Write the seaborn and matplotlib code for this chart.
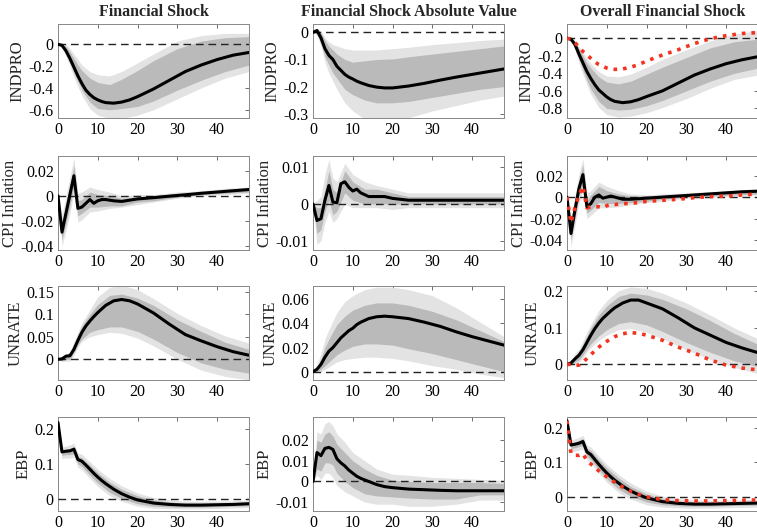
import matplotlib
matplotlib.use("Agg")
import matplotlib.pyplot as plt
import matplotlib.ticker as mticker
import seaborn as sns

# horizons for the median lines and for the error bands
H = [0, 1, 2, 3, 4, 5, 6, 7, 8, 9, 10, 11, 12, 14, 16, 18, 20, 24, 28, 32, 36, 40, 44, 48]
BH = [0, 1, 2, 3, 4, 5, 6, 8, 10, 13, 16, 20, 24, 30, 36, 42, 48]

COL_TITLES = ["Financial Shock", "Financial Shock Absolute Value", "Overall Financial Shock"]
ROW_LABELS = ["INDPRO", "CPI Inflation", "UNRATE", "EBP"]

# ---- INDPRO ----
IND_FS_MED = [0, -0.01, -0.06, -0.13, -0.21, -0.29, -0.36, -0.42, -0.46, -0.49, -0.51, -0.525, -0.535, -0.54, -0.53, -0.51, -0.48, -0.41, -0.33, -0.25, -0.19, -0.14, -0.10, -0.075]
IND_FS_IN_LO = [0, -0.02, -0.09, -0.17, -0.26, -0.34, -0.42, -0.53, -0.59, -0.60, -0.59, -0.57, -0.52, -0.42, -0.33, -0.25, -0.19]
IND_FS_IN_HI = [0, 0.0, -0.02, -0.07, -0.13, -0.19, -0.24, -0.31, -0.35, -0.37, -0.32, -0.24, -0.15, -0.04, 0.03, 0.06, 0.07]
IND_FS_OUT_LO = [0, -0.03, -0.11, -0.20, -0.30, -0.39, -0.47, -0.59, -0.65, -0.68, -0.68, -0.65, -0.60, -0.50, -0.40, -0.31, -0.25]
IND_FS_OUT_HI = [0, 0.01, 0.0, -0.04, -0.09, -0.14, -0.19, -0.25, -0.28, -0.29, -0.25, -0.17, -0.09, 0.03, 0.08, 0.10, 0.10]

IND_AV_MED = [0, 0.007, -0.02, -0.06, -0.085, -0.10, -0.125, -0.14, -0.155, -0.165, -0.172, -0.18, -0.186, -0.196, -0.202, -0.205, -0.205, -0.198, -0.188, -0.176, -0.165, -0.155, -0.145, -0.135]
IND_AV_IN_LO = [0, -0.005, -0.04, -0.09, -0.12, -0.15, -0.17, -0.21, -0.23, -0.25, -0.26, -0.26, -0.255, -0.24, -0.225, -0.21, -0.20]
IND_AV_IN_HI = [0, 0.012, 0.0, -0.03, -0.05, -0.065, -0.08, -0.10, -0.11, -0.105, -0.10, -0.098, -0.09, -0.08, -0.07, -0.06, -0.05]
IND_AV_OUT_LO = [0, -0.01, -0.05, -0.11, -0.15, -0.18, -0.21, -0.26, -0.29, -0.32, -0.33, -0.33, -0.315, -0.29, -0.27, -0.25, -0.235]
IND_AV_OUT_HI = [0, 0.015, 0.005, -0.02, -0.035, -0.045, -0.05, -0.06, -0.065, -0.065, -0.065, -0.06, -0.055, -0.045, -0.038, -0.03, -0.025]

IND_OV_MED = [0, -0.01, -0.07, -0.18, -0.28, -0.38, -0.46, -0.53, -0.59, -0.63, -0.67, -0.70, -0.72, -0.735, -0.725, -0.70, -0.665, -0.60, -0.51, -0.42, -0.35, -0.29, -0.245, -0.21]
IND_OV_RED = [0, -0.01, -0.05, -0.10, -0.15, -0.19, -0.23, -0.27, -0.30, -0.32, -0.34, -0.35, -0.355, -0.35, -0.33, -0.30, -0.26, -0.19, -0.13, -0.06, -0.005, 0.03, 0.055, 0.065]
IND_OV_IN_LO = [0, -0.03, -0.11, -0.24, -0.36, -0.48, -0.58, -0.72, -0.80, -0.82, -0.81, -0.77, -0.71, -0.60, -0.49, -0.40, -0.34]
IND_OV_IN_HI = [0, 0.0, -0.04, -0.12, -0.20, -0.28, -0.34, -0.44, -0.50, -0.52, -0.49, -0.41, -0.33, -0.22, -0.11, -0.04, -0.01]
IND_OV_OUT_LO = [0, -0.04, -0.13, -0.28, -0.41, -0.53, -0.64, -0.79, -0.87, -0.90, -0.89, -0.85, -0.79, -0.69, -0.57, -0.47, -0.42]
IND_OV_OUT_HI = [0, 0.01, -0.02, -0.09, -0.16, -0.23, -0.29, -0.38, -0.43, -0.44, -0.41, -0.33, -0.24, -0.13, -0.03, 0.05, 0.09]

# ---- CPI inflation ----
CPI_FS_MED = [0, -0.029, -0.014, 0.001, 0.016, -0.010, -0.009, -0.006, -0.003, -0.006, -0.004, -0.003, -0.003, -0.004, -0.0045, -0.0035, -0.0025, -0.0015, -0.0003, 0.0008, 0.002, 0.003, 0.004, 0.005]
CPI_FS_IN_LO = [0, -0.035, -0.022, -0.008, 0.008, -0.016, -0.014, -0.009, -0.009, -0.008, -0.008, -0.005, -0.004, -0.001, 0.001, 0.002, 0.003]
CPI_FS_IN_HI = [0, -0.022, -0.006, 0.008, 0.024, -0.004, -0.003, 0.003, 0.001, 0.0, -0.002, -0.001, 0.0, 0.002, 0.003, 0.005, 0.006]
CPI_FS_OUT_LO = [0, -0.040, -0.028, -0.014, 0.002, -0.021, -0.019, -0.013, -0.012, -0.010, -0.009, -0.007, -0.005, -0.002, 0.0, 0.001, 0.002]
CPI_FS_OUT_HI = [0, -0.015, 0.0, 0.015, 0.030, 0.002, 0.003, 0.007, 0.005, 0.003, 0.0, 0.001, 0.001, 0.003, 0.004, 0.006, 0.007]

CPI_AV_MED = [0, -0.0045, -0.004, 0.001, 0.005, 0.0005, 0.0003, 0.0055, 0.006, 0.0045, 0.0035, 0.004, 0.003, 0.002, 0.002, 0.002, 0.0015, 0.001, 0.001, 0.001, 0.001, 0.001, 0.001, 0.001]
CPI_AV_IN_LO = [0, -0.008, -0.007, -0.002, 0.001, -0.003, -0.002, 0.003, 0.001, 0.0, 0.0, 0.0, 0.0, 0.0, 0.0, 0.0, 0.0]
CPI_AV_IN_HI = [0, -0.001, -0.001, 0.004, 0.009, 0.004, 0.003, 0.009, 0.006, 0.004, 0.004, 0.003, 0.002, 0.002, 0.002, 0.002, 0.002]
CPI_AV_OUT_LO = [0, -0.011, -0.010, -0.005, -0.002, -0.005, -0.004, 0.0, -0.001, -0.001, -0.001, -0.0015, -0.001, -0.001, -0.001, -0.001, -0.001]
CPI_AV_OUT_HI = [0, 0.001, 0.002, 0.008, 0.012, 0.007, 0.006, 0.011, 0.008, 0.006, 0.005, 0.004, 0.003, 0.003, 0.003, 0.003, 0.003]

CPI_OV_MED = [0, -0.034, -0.012, 0.008, 0.021, -0.009, -0.006, 0.0, 0.002, -0.001, 0.0, 0.001, 0.0, -0.002, -0.002, -0.0015, -0.001, 0.0, 0.001, 0.002, 0.003, 0.004, 0.005, 0.0055]
CPI_OV_RED = [0, -0.024, -0.010, 0.002, 0.010, -0.010, -0.009, -0.009, -0.009, -0.010, -0.008, -0.007, -0.007, -0.006, -0.006, -0.005, -0.004, -0.003, -0.002, -0.0005, 0.0005, 0.001, 0.002, 0.003]
CPI_OV_IN_LO = [0, -0.040, -0.020, 0.0, 0.012, -0.015, -0.012, -0.005, -0.006, -0.006, -0.005, -0.004, -0.002, 0.0, 0.001, 0.002, 0.003]
CPI_OV_IN_HI = [0, -0.027, -0.005, 0.016, 0.030, -0.003, 0.002, 0.010, 0.006, 0.003, 0.001, 0.001, 0.002, 0.003, 0.004, 0.005, 0.007]
CPI_OV_OUT_LO = [0, -0.046, -0.026, -0.006, 0.006, -0.020, -0.017, -0.010, -0.010, -0.009, -0.007, -0.005, -0.004, -0.001, 0.0, 0.001, 0.002]
CPI_OV_OUT_HI = [0, -0.020, 0.0, 0.022, 0.036, 0.003, 0.006, 0.014, 0.010, 0.006, 0.003, 0.002, 0.003, 0.004, 0.005, 0.006, 0.008]

# ---- UNRATE ----
UN_FS_MED = [0, 0.001, 0.007, 0.008, 0.022, 0.042, 0.06, 0.074, 0.085, 0.095, 0.104, 0.112, 0.12, 0.13, 0.133, 0.13, 0.123, 0.103, 0.078, 0.055, 0.041, 0.028, 0.017, 0.009]
UN_FS_IN_LO = [0, -0.003, 0.0, 0.0, 0.015, 0.033, 0.045, 0.06, 0.066, 0.072, 0.072, 0.062, 0.045, 0.015, -0.008, -0.022, -0.031]
UN_FS_IN_HI = [0, 0.003, 0.010, 0.012, 0.033, 0.055, 0.074, 0.10, 0.122, 0.142, 0.145, 0.136, 0.12, 0.088, 0.062, 0.038, 0.022]
UN_FS_OUT_LO = [0, -0.005, -0.004, -0.004, 0.010, 0.027, 0.040, 0.05, 0.055, 0.06, 0.058, 0.047, 0.03, 0.0, -0.024, -0.038, -0.046]
UN_FS_OUT_HI = [0, 0.005, 0.013, 0.016, 0.038, 0.06, 0.08, 0.11, 0.139, 0.16, 0.165, 0.155, 0.135, 0.102, 0.075, 0.052, 0.036]

UN_AV_MED = [0, 0.002, 0.006, 0.012, 0.017, 0.02, 0.024, 0.028, 0.031, 0.034, 0.036, 0.039, 0.041, 0.044, 0.0455, 0.046, 0.0455, 0.044, 0.041, 0.0375, 0.033, 0.029, 0.0255, 0.022]
UN_AV_IN_LO = [0, 0.0, 0.002, 0.005, 0.008, 0.011, 0.014, 0.018, 0.021, 0.023, 0.023, 0.022, 0.019, 0.015, 0.010, 0.005, 0.0]
UN_AV_IN_HI = [0, 0.004, 0.011, 0.020, 0.027, 0.033, 0.039, 0.046, 0.051, 0.055, 0.057, 0.057, 0.055, 0.050, 0.043, 0.034, 0.025]
UN_AV_OUT_LO = [0, -0.001, 0.0, 0.002, 0.004, 0.006, 0.008, 0.010, 0.011, 0.012, 0.012, 0.011, 0.009, 0.005, 0.002, -0.002, -0.005]
UN_AV_OUT_HI = [0, 0.006, 0.015, 0.027, 0.035, 0.042, 0.049, 0.058, 0.063, 0.068, 0.070, 0.070, 0.068, 0.063, 0.053, 0.041, 0.029]

UN_OV_MED = [0, 0.004, 0.015, 0.025, 0.04, 0.06, 0.08, 0.098, 0.113, 0.126, 0.136, 0.146, 0.155, 0.168, 0.176, 0.176, 0.168, 0.152, 0.127, 0.10, 0.08, 0.06, 0.045, 0.032]
UN_OV_RED = [0, 0.0, -0.003, -0.002, 0.006, 0.016, 0.027, 0.037, 0.047, 0.056, 0.063, 0.07, 0.076, 0.084, 0.087, 0.085, 0.08, 0.066, 0.047, 0.031, 0.012, -0.002, -0.01, -0.015]
UN_OV_IN_LO = [0, 0.0, 0.006, 0.012, 0.026, 0.042, 0.056, 0.078, 0.095, 0.112, 0.117, 0.108, 0.09, 0.06, 0.033, 0.01, -0.006]
UN_OV_IN_HI = [0, 0.008, 0.024, 0.034, 0.055, 0.078, 0.10, 0.135, 0.16, 0.186, 0.195, 0.19, 0.178, 0.152, 0.12, 0.085, 0.055]
UN_OV_OUT_LO = [0, -0.003, 0.002, 0.006, 0.018, 0.034, 0.046, 0.066, 0.08, 0.095, 0.098, 0.088, 0.07, 0.04, 0.013, -0.008, -0.025]
UN_OV_OUT_HI = [0, 0.011, 0.03, 0.042, 0.064, 0.088, 0.11, 0.148, 0.175, 0.202, 0.212, 0.208, 0.195, 0.168, 0.135, 0.10, 0.07]

# ---- EBP ----
EBP_FS_MED = [0.22, 0.135, 0.137, 0.138, 0.143, 0.113, 0.108, 0.097, 0.085, 0.073, 0.062, 0.052, 0.043, 0.027, 0.014, 0.004, -0.004, -0.013, -0.017, -0.019, -0.019, -0.018, -0.017, -0.015]
EBP_FS_IN_LO = [0.22, 0.125, 0.127, 0.127, 0.13, 0.10, 0.093, 0.068, 0.045, 0.018, 0.0, -0.015, -0.022, -0.025, -0.025, -0.023, -0.021]
EBP_FS_IN_HI = [0.22, 0.14, 0.143, 0.145, 0.15, 0.122, 0.118, 0.097, 0.075, 0.047, 0.027, 0.008, -0.004, -0.012, -0.013, -0.012, -0.010]
EBP_FS_OUT_LO = [0.22, 0.115, 0.118, 0.117, 0.12, 0.09, 0.083, 0.058, 0.035, 0.008, -0.008, -0.022, -0.028, -0.03, -0.03, -0.028, -0.026]
EBP_FS_OUT_HI = [0.22, 0.15, 0.152, 0.155, 0.16, 0.132, 0.128, 0.107, 0.085, 0.058, 0.037, 0.016, 0.003, -0.006, -0.008, -0.007, -0.005]

EBP_AV_MED = [0, 0.014, 0.0125, 0.016, 0.0165, 0.0155, 0.011, 0.009, 0.0075, 0.0055, 0.004, 0.0025, 0.0015, 0.0, -0.0015, -0.0025, -0.003, -0.0037, -0.004, -0.0043, -0.0045, -0.0045, -0.0045, -0.0045]
EBP_AV_IN_LO = [0, 0.006, 0.005, 0.009, 0.009, 0.008, 0.004, 0.0, -0.003, -0.006, -0.007, -0.0075, -0.008, -0.0085, -0.0085, -0.0065, -0.0065]
EBP_AV_IN_HI = [0, 0.020, 0.019, 0.023, 0.024, 0.022, 0.018, 0.014, 0.010, 0.006, 0.003, 0.0006, 0.0, -0.0005, -0.0005, -0.0005, -0.001]
EBP_AV_OUT_LO = [0, 0.003, 0.001, 0.004, 0.004, 0.002, -0.002, -0.005, -0.007, -0.010, -0.011, -0.011, -0.012, -0.012, -0.011, -0.009, -0.009]
EBP_AV_OUT_HI = [0, 0.024, 0.023, 0.028, 0.029, 0.027, 0.023, 0.019, 0.014, 0.010, 0.006, 0.0035, 0.003, 0.002, 0.0015, 0.001, 0.0005]

EBP_OV_MED = [0.22, 0.15, 0.152, 0.155, 0.16, 0.13, 0.122, 0.108, 0.094, 0.081, 0.069, 0.058, 0.048, 0.031, 0.017, 0.006, -0.003, -0.014, -0.019, -0.021, -0.021, -0.020, -0.019, -0.018]
EBP_OV_RED = [0.22, 0.125, 0.12, 0.12, 0.125, 0.105, 0.095, 0.085, 0.075, 0.066, 0.058, 0.05, 0.042, 0.028, 0.016, 0.007, 0.0, -0.008, -0.011, -0.012, -0.012, -0.011, -0.010, -0.009]
EBP_OV_IN_LO = [0.22, 0.14, 0.142, 0.145, 0.148, 0.117, 0.108, 0.078, 0.052, 0.022, 0.002, -0.015, -0.023, -0.027, -0.027, -0.025, -0.024]
EBP_OV_IN_HI = [0.22, 0.157, 0.16, 0.163, 0.17, 0.14, 0.134, 0.108, 0.084, 0.054, 0.03, 0.008, -0.005, -0.014, -0.015, -0.014, -0.012]
EBP_OV_OUT_LO = [0.22, 0.13, 0.132, 0.135, 0.138, 0.107, 0.098, 0.068, 0.042, 0.012, -0.007, -0.023, -0.03, -0.033, -0.033, -0.031, -0.03]
EBP_OV_OUT_HI = [0.22, 0.165, 0.168, 0.172, 0.178, 0.15, 0.144, 0.118, 0.094, 0.064, 0.04, 0.016, 0.002, -0.008, -0.01, -0.009, -0.007]

# axis limits and ticks per panel (row, col)
YLIMS = [
    [(-0.676, 0.186), (-0.316, 0.031), (-0.91, 0.163)],
    [(-0.0432, 0.0317), (-0.0125, 0.013), (-0.0494, 0.0384)],
    [(-0.046, 0.163), (-0.0069, 0.071), (-0.0427, 0.2145)],
    [(-0.036, 0.236), (-0.0143, 0.0312), (-0.041, 0.231)],
]
YTICKS = [
    [[-0.6, -0.4, -0.2, 0], [-0.3, -0.2, -0.1, 0], [-0.8, -0.6, -0.4, -0.2, 0]],
    [[-0.04, -0.02, 0, 0.02], [-0.01, 0, 0.01], [-0.04, -0.02, 0, 0.02]],
    [[0, 0.05, 0.1, 0.15], [0, 0.02, 0.04, 0.06], [0, 0.1, 0.2]],
    [[0, 0.1, 0.2], [-0.01, 0, 0.01, 0.02], [0, 0.1, 0.2]],
]

panels = [
    [(IND_FS_MED, IND_FS_IN_LO, IND_FS_IN_HI, IND_FS_OUT_LO, IND_FS_OUT_HI, None),
     (IND_AV_MED, IND_AV_IN_LO, IND_AV_IN_HI, IND_AV_OUT_LO, IND_AV_OUT_HI, None),
     (IND_OV_MED, IND_OV_IN_LO, IND_OV_IN_HI, IND_OV_OUT_LO, IND_OV_OUT_HI, IND_OV_RED)],
    [(CPI_FS_MED, CPI_FS_IN_LO, CPI_FS_IN_HI, CPI_FS_OUT_LO, CPI_FS_OUT_HI, None),
     (CPI_AV_MED, CPI_AV_IN_LO, CPI_AV_IN_HI, CPI_AV_OUT_LO, CPI_AV_OUT_HI, None),
     (CPI_OV_MED, CPI_OV_IN_LO, CPI_OV_IN_HI, CPI_OV_OUT_LO, CPI_OV_OUT_HI, CPI_OV_RED)],
    [(UN_FS_MED, UN_FS_IN_LO, UN_FS_IN_HI, UN_FS_OUT_LO, UN_FS_OUT_HI, None),
     (UN_AV_MED, UN_AV_IN_LO, UN_AV_IN_HI, UN_AV_OUT_LO, UN_AV_OUT_HI, None),
     (UN_OV_MED, UN_OV_IN_LO, UN_OV_IN_HI, UN_OV_OUT_LO, UN_OV_OUT_HI, UN_OV_RED)],
    [(EBP_FS_MED, EBP_FS_IN_LO, EBP_FS_IN_HI, EBP_FS_OUT_LO, EBP_FS_OUT_HI, None),
     (EBP_AV_MED, EBP_AV_IN_LO, EBP_AV_IN_HI, EBP_AV_OUT_LO, EBP_AV_OUT_HI, None),
     (EBP_OV_MED, EBP_OV_IN_LO, EBP_OV_IN_HI, EBP_OV_OUT_LO, EBP_OV_OUT_HI, EBP_OV_RED)],
]

sns.set_style("white")
plt.rcParams['font.family'] = ['Liberation Serif', 'DejaVu Serif']
plt.rcParams['axes.unicode_minus'] = False

W, HT = 757, 532
fig = plt.figure(figsize=(W / 100, HT / 100), dpi=100)

col_left = [58, 313, 567]
row_top = [24, 156, 286, 417]
ax_w, ax_h = 191, 94

OUTER = '#e3e3e3'
INNER = '#bababa'
RED = '#f2331f'

for r in range(4):
    for c in range(3):
        med, in_lo, in_hi, out_lo, out_hi, red = panels[r][c]
        ax = fig.add_axes([col_left[c] / W, 1 - (row_top[r] + ax_h) / HT, ax_w / W, ax_h / HT])
        ax.fill_between(BH, out_lo, out_hi, color=OUTER, lw=0, zorder=1)
        ax.fill_between(BH, in_lo, in_hi, color=INNER, lw=0, zorder=2)
        ax.axhline(0, color='#222222', lw=1.0, ls=(0, (5.5, 3.5)), zorder=3)
        if red is not None:
            sns.lineplot(x=H, y=red, ax=ax, color=RED, lw=2.6, ls=':', zorder=5)
        sns.lineplot(x=H, y=med, ax=ax, color='black', lw=2.2, zorder=4)

        ax.set_xlim(0, 48)
        ax.set_ylim(*YLIMS[r][c])
        ax.set_xticks([0, 10, 20, 30, 40])
        ax.set_yticks(YTICKS[r][c])
        ax.yaxis.set_major_formatter(mticker.FormatStrFormatter('%g'))
        ax.tick_params(direction='in', length=3, width=0.6, colors='#555555',
                       labelcolor='black', labelsize=11.5, top=True, right=True, pad=3)
        for sp in ax.spines.values():
            sp.set_color('#888888')
            sp.set_linewidth(0.7)
        ax.set_ylabel(ROW_LABELS[r], fontsize=12, labelpad=2)
        ax.set_xlabel('')
        if r == 0:
            ax.set_title(COL_TITLES[c], fontsize=11.5, fontweight='bold', pad=6)

fig.savefig('out.png', dpi=100)
